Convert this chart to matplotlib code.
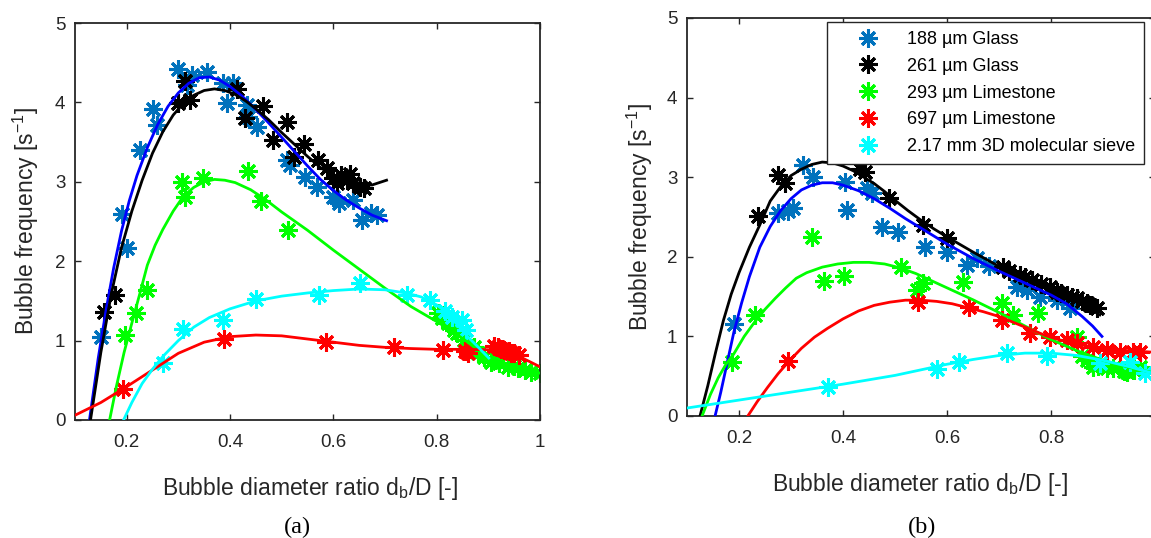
import matplotlib
matplotlib.use("Agg")
import matplotlib.pyplot as plt
from matplotlib.lines import Line2D

W, H = 1151, 538

# ---------------- data: panel (a) ----------------
a_g188_x = [0.151, 0.190, 0.200, 0.225, 0.251, 0.258, 0.299, 0.316, 0.326, 0.355, 0.386, 0.394, 0.406,
            0.433, 0.435, 0.452, 0.510, 0.517, 0.546, 0.569, 0.600, 0.610, 0.639, 0.656, 0.672, 0.685]
a_g188_y = [1.05, 2.59, 2.16, 3.40, 3.92, 3.72, 4.42, 4.22, 4.35, 4.38, 4.24, 3.99, 4.24,
            3.97, 3.82, 3.69, 3.27, 3.21, 3.06, 2.93, 2.81, 2.73, 2.77, 2.52, 2.61, 2.58]
a_g261_x = [0.157, 0.177, 0.299, 0.313, 0.322, 0.413, 0.429, 0.464, 0.484, 0.510, 0.523, 0.544,
            0.570, 0.588, 0.600, 0.607, 0.614, 0.627, 0.632, 0.639, 0.652, 0.660]
a_g261_y = [1.36, 1.57, 3.99, 4.27, 4.03, 4.17, 3.80, 3.95, 3.53, 3.75, 3.31, 3.48,
            3.28, 3.17, 3.05, 2.98, 3.09, 3.02, 3.10, 2.98, 2.93, 2.92]
a_l293_x = [0.196, 0.218, 0.240, 0.307, 0.313, 0.348, 0.435, 0.460, 0.513, 0.802, 0.810, 0.821, 0.833,
            0.840, 0.852, 0.860, 0.872, 0.880, 0.891, 0.905, 0.920, 0.938, 0.950, 0.957, 0.970, 0.983, 1.0]
a_l293_y = [1.07, 1.35, 1.64, 3.00, 2.81, 3.05, 3.14, 2.76, 2.39, 1.35, 1.28, 1.22, 1.13,
            1.10, 1.01, 0.95, 0.92, 0.85, 0.79, 0.73, 0.72, 0.67, 0.68, 0.65, 0.63, 0.60, 0.59]
a_l697_x = [0.193, 0.389, 0.585, 0.717, 0.812, 0.855, 0.860, 0.910, 0.918, 0.925, 0.930, 0.940, 0.944, 0.950, 0.960]
a_l697_y = [0.39, 1.02, 0.98, 0.92, 0.88, 0.87, 0.84, 0.93, 0.92, 0.90, 0.88, 0.87, 0.84, 0.85, 0.82]
a_sv_x = [0.270, 0.309, 0.387, 0.451, 0.573, 0.651, 0.742, 0.787, 0.816, 0.830, 0.849, 0.857]
a_sv_y = [0.72, 1.14, 1.26, 1.52, 1.57, 1.72, 1.57, 1.51, 1.37, 1.30, 1.26, 1.13]

# fitted curves (a)
a_f188_x = [0.128, 0.145, 0.160, 0.175, 0.190, 0.205, 0.220, 0.240, 0.260, 0.280, 0.300, 0.320, 0.340,
            0.360, 0.380, 0.400, 0.425, 0.450, 0.475, 0.500, 0.525, 0.550, 0.575, 0.600, 0.625, 0.650,
            0.675, 0.703]
a_f188_y = [0.0, 0.78, 1.38, 1.92, 2.38, 2.76, 3.08, 3.43, 3.72, 3.95, 4.12, 4.24, 4.31,
            4.32, 4.28, 4.20, 4.07, 3.91, 3.74, 3.56, 3.38, 3.20, 3.03, 2.89, 2.77, 2.67,
            2.58, 2.51]
a_f261_x = [0.130, 0.150, 0.170, 0.190, 0.210, 0.230, 0.250, 0.270, 0.290, 0.310, 0.330, 0.350,
            0.370, 0.390, 0.410, 0.430, 0.450, 0.475, 0.500, 0.525, 0.550, 0.575, 0.600, 0.625,
            0.650, 0.675, 0.703]
a_f261_y = [0.0, 0.85, 1.58, 2.17, 2.63, 3.02, 3.36, 3.63, 3.84, 3.99, 4.09, 4.15,
            4.17, 4.15, 4.10, 4.02, 3.92, 3.78, 3.62, 3.47, 3.32, 3.18, 3.07, 3.00,
            2.96, 2.96, 3.02]
a_f293_x = [0.167, 0.180, 0.195, 0.210, 0.225, 0.240, 0.255, 0.270, 0.290, 0.310, 0.330, 0.350,
            0.370, 0.390, 0.410, 0.440, 0.470, 0.500, 0.550, 0.600, 0.650, 0.700, 0.750, 0.800,
            0.830, 0.860, 0.880, 0.900, 0.930, 0.960, 1.0]
a_f293_y = [0.0, 0.42, 0.85, 1.22, 1.58, 1.95, 2.20, 2.40, 2.63, 2.82, 2.93, 3.00,
            3.03, 3.02, 2.99, 2.90, 2.77, 2.62, 2.39, 2.14, 1.90, 1.66, 1.43, 1.24,
            1.12, 0.98, 0.88, 0.79, 0.72, 0.66, 0.59]
a_f697_x = [0.10, 0.15, 0.20, 0.25, 0.30, 0.35, 0.40, 0.45, 0.50, 0.55, 0.60, 0.65, 0.70, 0.75,
            0.80, 0.85, 0.90, 0.93, 0.96, 1.0]
a_f697_y = [0.06, 0.22, 0.42, 0.63, 0.84, 0.98, 1.05, 1.07, 1.06, 1.02, 0.98, 0.94, 0.915, 0.90,
            0.89, 0.89, 0.885, 0.86, 0.80, 0.67]
a_fsv_x = [0.194, 0.210, 0.230, 0.250, 0.270, 0.300, 0.330, 0.360, 0.400, 0.450, 0.500, 0.550,
           0.600, 0.650, 0.700, 0.740, 0.770, 0.800, 0.820, 0.840, 0.860, 0.880, 0.901]
a_fsv_y = [0.0, 0.22, 0.46, 0.64, 0.80, 1.00, 1.17, 1.29, 1.40, 1.50, 1.56, 1.60,
           1.63, 1.65, 1.64, 1.60, 1.55, 1.45, 1.35, 1.20, 1.05, 0.92, 0.78]

# ---------------- data: panel (b) ----------------
b_g188_x = [0.190, 0.275, 0.295, 0.304, 0.323, 0.342, 0.404, 0.408, 0.446, 0.455, 0.475, 0.506, 0.558,
            0.600, 0.638, 0.658, 0.680, 0.735, 0.754, 0.779, 0.811, 0.837]
b_g188_y = [1.15, 2.55, 2.58, 2.61, 3.15, 3.00, 2.94, 2.59, 2.86, 2.80, 2.37, 2.31, 2.12,
            2.06, 1.90, 1.98, 1.88, 1.62, 1.58, 1.50, 1.46, 1.36]
b_g261_x = [0.237, 0.275, 0.288, 0.433, 0.442, 0.489, 0.554, 0.600, 0.708, 0.720, 0.740, 0.750, 0.763,
            0.780, 0.798, 0.811, 0.820, 0.830, 0.840, 0.850, 0.860, 0.869, 0.875, 0.888]
b_g261_y = [2.51, 3.03, 2.93, 3.10, 3.07, 2.74, 2.40, 2.24, 1.87, 1.82, 1.77, 1.74, 1.71,
            1.66, 1.62, 1.56, 1.55, 1.52, 1.50, 1.48, 1.45, 1.42, 1.40, 1.36]
b_l293_x = [0.187, 0.231, 0.340, 0.363, 0.402, 0.512, 0.542, 0.554, 0.631, 0.705, 0.727, 0.775,
            0.850, 0.860, 0.869, 0.881, 0.890, 0.908, 0.920, 0.940, 0.946, 0.960, 0.971]
b_l293_y = [0.68, 1.27, 2.25, 1.69, 1.76, 1.87, 1.58, 1.67, 1.68, 1.42, 1.27, 1.29,
            0.99, 0.75, 0.70, 0.62, 0.63, 0.60, 0.60, 0.57, 0.55, 0.58, 0.62]
b_l697_x = [0.294, 0.544, 0.642, 0.705, 0.760, 0.798, 0.830, 0.850, 0.881, 0.908, 0.933, 0.958, 0.971]
b_l697_y = [0.69, 1.43, 1.37, 1.21, 1.04, 0.99, 0.95, 0.92, 0.87, 0.83, 0.81, 0.81, 0.81]
b_sv_x = [0.371, 0.581, 0.623, 0.715, 0.792, 0.894, 0.952, 0.981]
b_sv_y = [0.36, 0.59, 0.68, 0.79, 0.75, 0.67, 0.68, 0.54]

b_f188_x = [0.154, 0.165, 0.175, 0.190, 0.205, 0.220, 0.240, 0.260, 0.280, 0.300, 0.320, 0.340,
            0.360, 0.380, 0.400, 0.430, 0.460, 0.490, 0.520, 0.550, 0.600, 0.650, 0.700, 0.750,
            0.800, 0.830, 0.860, 0.880, 0.898]
b_f188_y = [0.0, 0.30, 0.60, 1.05, 1.42, 1.75, 2.12, 2.38, 2.58, 2.73, 2.84, 2.90,
            2.93, 2.93, 2.90, 2.83, 2.73, 2.61, 2.48, 2.36, 2.16, 1.98, 1.82, 1.67,
            1.52, 1.41, 1.25, 1.13, 1.00]
b_f261_x = [0.125, 0.140, 0.155, 0.170, 0.185, 0.200, 0.220, 0.240, 0.260, 0.280, 0.300, 0.320,
            0.340, 0.360, 0.380, 0.400, 0.420, 0.440, 0.460, 0.480, 0.500, 0.525, 0.550, 0.575,
            0.600, 0.650, 0.700, 0.750, 0.800, 0.850, 0.894]
b_f261_y = [0.0, 0.38, 0.80, 1.20, 1.53, 1.80, 2.12, 2.40, 2.70, 2.88, 3.02, 3.10,
            3.16, 3.19, 3.18, 3.14, 3.08, 3.00, 2.92, 2.82, 2.71, 2.58, 2.46, 2.35,
            2.25, 2.06, 1.88, 1.72, 1.58, 1.44, 1.27]
b_f293_x = [0.129, 0.145, 0.160, 0.175, 0.190, 0.210, 0.230, 0.250, 0.270, 0.290, 0.310, 0.330,
            0.360, 0.390, 0.420, 0.450, 0.480, 0.510, 0.540, 0.570, 0.600, 0.650, 0.700, 0.750,
            0.800, 0.850, 0.900, 0.950, 1.0]
b_f293_y = [0.0, 0.27, 0.48, 0.65, 0.78, 1.00, 1.18, 1.34, 1.48, 1.61, 1.73, 1.80,
            1.87, 1.91, 1.93, 1.93, 1.91, 1.86, 1.79, 1.70, 1.61, 1.46, 1.30, 1.13,
            0.96, 0.82, 0.70, 0.61, 0.54]
b_f697_x = [0.217, 0.235, 0.255, 0.275, 0.295, 0.320, 0.345, 0.370, 0.400, 0.430, 0.460, 0.490,
            0.520, 0.550, 0.580, 0.610, 0.640, 0.670, 0.700, 0.730, 0.760, 0.790, 0.820, 0.860,
            0.900, 0.950, 1.0]
b_f697_y = [0.0, 0.18, 0.36, 0.53, 0.68, 0.85, 0.99, 1.10, 1.22, 1.32, 1.39, 1.43,
            1.455, 1.455, 1.44, 1.41, 1.36, 1.31, 1.25, 1.17, 1.09, 1.01, 0.95, 0.89,
            0.85, 0.82, 0.80]
b_fsv_x = [0.10, 0.20, 0.30, 0.40, 0.50, 0.55, 0.60, 0.65, 0.70, 0.75, 0.80, 0.85, 0.90, 0.95, 1.0]
b_fsv_y = [0.10, 0.20, 0.30, 0.40, 0.51, 0.58, 0.65, 0.71, 0.76, 0.79, 0.79, 0.76, 0.70, 0.62, 0.53]

series_labels = ["188 µm Glass", "261 µm Glass", "293 µm Limestone", "697 µm Limestone",
                 "2.17 mm 3D molecular sieve"]
marker_colors = ["#0072BD", "#000000", "#00FF00", "#FF0000", "#00FFFF"]
line_colors = ["#0000FF", "#000000", "#00FF00", "#FF0000", "#00FFFF"]
xtick_vals = [0.2, 0.4, 0.6, 0.8, 1.0]
xtick_labels = ["0.2", "0.4", "0.6", "0.8", "1"]
ytick_vals = [0, 1, 2, 3, 4, 5]
ytick_labels = ["0", "1", "2", "3", "4", "5"]

# ---------------- styling ----------------
plt.rcParams['font.family'] = ['Liberation Sans', 'DejaVu Sans']
plt.rcParams['mathtext.fontset'] = 'custom'
plt.rcParams['mathtext.rm'] = 'Liberation Sans'
plt.rcParams['mathtext.it'] = 'Liberation Sans'
AXC = "#262626"
MK = (8, 2, 0)
MS = 13
MEW = 2.2
LW = 2.0

fig = plt.figure(figsize=(W / 100, H / 100), dpi=100)
ax1 = fig.add_axes([75 / W, 1 - 420 / H, 465 / W, 397 / H])
ax2 = fig.add_axes([687 / W, 1 - 416 / H, 468 / W, 398 / H])

panels = [
    (ax1,
     [(a_g188_x, a_g188_y), (a_g261_x, a_g261_y), (a_l293_x, a_l293_y), (a_l697_x, a_l697_y), (a_sv_x, a_sv_y)],
     [(a_f188_x, a_f188_y), (a_f261_x, a_f261_y), (a_f293_x, a_f293_y), (a_f697_x, a_f697_y), (a_fsv_x, a_fsv_y)]),
    (ax2,
     [(b_g188_x, b_g188_y), (b_g261_x, b_g261_y), (b_l293_x, b_l293_y), (b_l697_x, b_l697_y), (b_sv_x, b_sv_y)],
     [(b_f188_x, b_f188_y), (b_f261_x, b_f261_y), (b_f293_x, b_f293_y), (b_f697_x, b_f697_y), (b_fsv_x, b_fsv_y)]),
]

for ax, pts, fits in panels:
    for (x, y), c in zip(pts, marker_colors):
        ax.plot(x, y, linestyle='none', marker=MK, markersize=MS, markeredgewidth=MEW,
                markeredgecolor=c, markerfacecolor=c, zorder=2)
    for (x, y), c in zip(fits, line_colors):
        ax.plot(x, y, color=c, linewidth=LW, solid_joinstyle='round', zorder=3)
    ax.set_xlim(0.1, 1.0)
    ax.set_ylim(0, 5)
    ax.set_xticks(xtick_vals)
    ax.set_xticklabels(xtick_labels)
    ax.set_yticks(ytick_vals)
    ax.set_yticklabels(ytick_labels)
    ax.tick_params(direction='in', top=True, right=True, length=4, width=1.0,
                   colors=AXC, labelsize=13.5)
    ax.tick_params(axis='x', pad=10)
    ax.tick_params(axis='y', pad=7)
    for s in ax.spines.values():
        s.set_color(AXC)
        s.set_linewidth(1.3)

# axis labels as figure text for exact placement
xlab = "Bubble diameter ratio d$_\\mathrm{b}$/D [-]"
ylab = "Bubble frequency [s$^{-1}$]"
fig.text(310 / W, 1 - 488 / H, xlab, ha='center', va='center', fontsize=16.5, color=AXC)
fig.text(920 / W, 1 - 484 / H, xlab, ha='center', va='center', fontsize=16.5, color=AXC)
fig.text(26 / W, 1 - 221 / H, ylab, ha='center', va='center', rotation=90, fontsize=16.5, color=AXC)
fig.text(640 / W, 1 - 217 / H, ylab, ha='center', va='center', rotation=90, fontsize=16.5, color=AXC)
fig.text(297 / W, 1 - 527 / H, "(a)", ha='center', va='center', fontsize=17.5,
         family=['Liberation Serif', 'DejaVu Serif'], color='black')
fig.text(922 / W, 1 - 527 / H, "(b)", ha='center', va='center', fontsize=17.5,
         family=['Liberation Serif', 'DejaVu Serif'], color='black')

handles = [Line2D([], [], linestyle='none', marker=MK, markersize=MS, markeredgewidth=MEW,
                  markeredgecolor=c, markerfacecolor=c) for c in marker_colors]
leg = ax2.legend(handles, series_labels, loc='upper left', bbox_to_anchor=(827 / W, 1 - 22 / H),
                 bbox_transform=fig.transFigure, borderaxespad=0, fontsize=13, frameon=True,
                 fancybox=False, framealpha=1, edgecolor=AXC, borderpad=0.5, handlelength=3.55,
                 handletextpad=0.39, labelspacing=0.54)
leg.get_frame().set_linewidth(1.0)
for t in leg.get_texts():
    t.set_color('black')

fig.savefig("out.png", dpi=100)
